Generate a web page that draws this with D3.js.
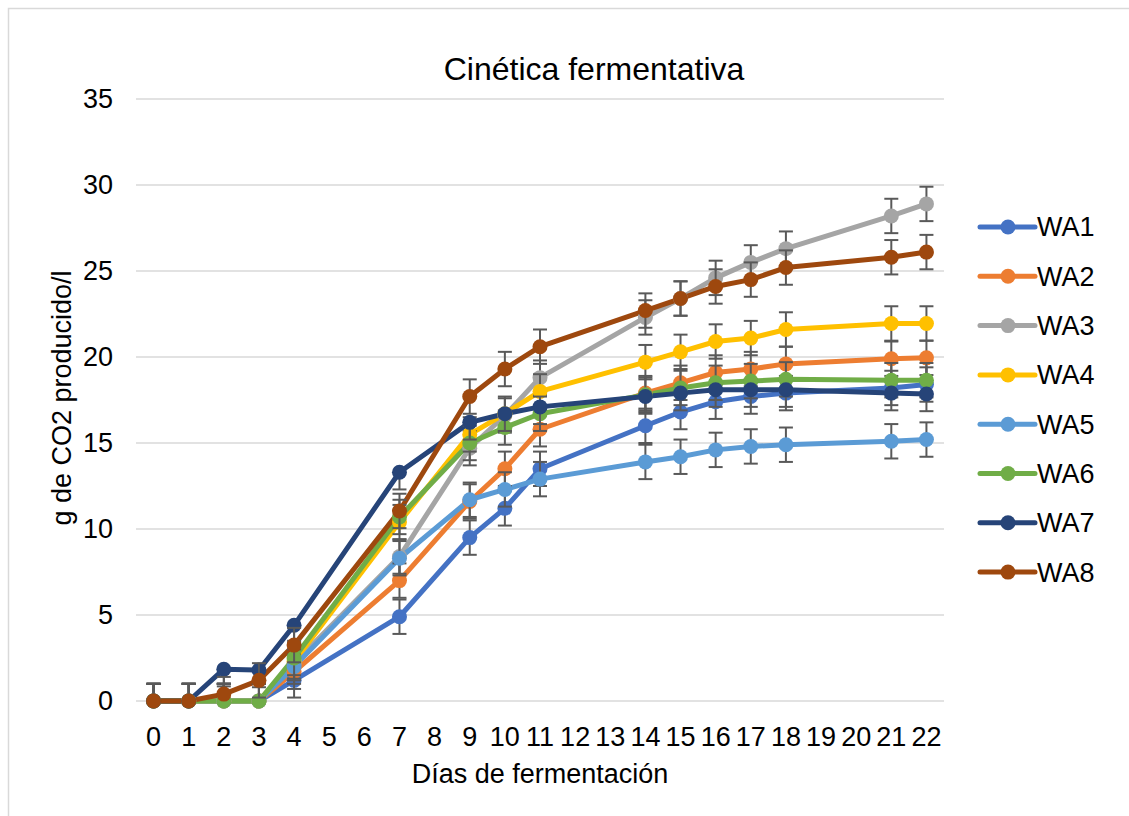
<!DOCTYPE html>
<html>
<head>
<meta charset="utf-8">
<script src="https://cdn.jsdelivr.net/npm/d3@7"></script>
<style>
  body { margin: 0; background: #fff; }
  svg text { font-family: "Liberation Sans", Arial, sans-serif; fill: #000; }
</style>
</head>
<body>
<div id="chart"></div>
<script>
// x axis categories (days 0..22), only some days have measurements
var categories = ["0","1","2","3","4","5","6","7","8","9","10","11","12","13","14","15","16","17","18","19","20","21","22"];
var days = ["0","1","2","3","4","7","9","10","11","14","15","16","17","18","21","22"];

var WA1 = [0, 0, 0, 0, 1.2, 4.9, 9.5, 11.2, 13.5, 16.0, 16.8, 17.4, 17.7, 17.9, 18.2, 18.4];
var WA2 = [0, 0, 0, 0, 1.7, 7.0, 11.6, 13.5, 15.8, 17.9, 18.5, 19.1, 19.3, 19.6, 19.9, 19.95];
var WA3 = [0, 0, 0, 0, 2.2, 8.4, 14.7, 16.6, 18.8, 22.3, 23.4, 24.6, 25.5, 26.3, 28.2, 28.9];
var WA4 = [0, 0, 0, 0, 2.3, 10.4, 15.5, 16.7, 18.0, 19.7, 20.3, 20.9, 21.1, 21.6, 21.95, 21.95];
var WA5 = [0, 0, 0, 0, 2.0, 8.3, 11.7, 12.3, 12.9, 13.9, 14.2, 14.6, 14.8, 14.9, 15.1, 15.2];
var WA6 = [0, 0, 0, 0, 2.5, 10.7, 15.0, 15.9, 16.7, 17.8, 18.2, 18.5, 18.6, 18.7, 18.65, 18.65];
var WA7 = [0, 0, 1.85, 1.8, 4.4, 13.3, 16.2, 16.7, 17.1, 17.7, 17.9, 18.1, 18.1, 18.1, 17.9, 17.85];
var WA8 = [0, 0, 0.4, 1.2, 3.25, 11.05, 17.7, 19.3, 20.6, 22.7, 23.4, 24.1, 24.5, 25.2, 25.8, 26.1];

var seriesNames = ["WA1","WA2","WA3","WA4","WA5","WA6","WA7","WA8"];
var seriesValues = [WA1, WA2, WA3, WA4, WA5, WA6, WA7, WA8];
var errorValue = 1; // fixed error bar
// error bar directions per series (WA7 shows only the lower bar)
var errPlus =  [true, true, true, true, true, true, false, true];
var errMinus = [true, true, true, true, true, true, true, true];
var yTicks = [0, 5, 10, 15, 20, 25, 30, 35];

var colors = ["#4472C4","#ED7D31","#A5A5A5","#FFC000","#5B9BD5","#70AD47","#264478","#9E480E"];

var svgWidth = 1129, svgHeight = 816;
var margin = {left: 136, right: 185, top: 99, bottom: 115};
var plotW = svgWidth - margin.left - margin.right;
var plotH = svgHeight - margin.top - margin.bottom;
var fontSize = 27;

var svg = d3.select('#chart').append('svg')
  .attr('width', svgWidth).attr('height', svgHeight);

svg.append('rect')
  .attr('x', 8.5).attr('y', 8.5)
  .attr('width', svgWidth + 20).attr('height', svgHeight + 20)
  .attr('fill', '#fff').attr('stroke', '#d9d9d9').attr('stroke-width', 1.5);

var g = svg.append('g')
  .attr('transform', 'translate(' + margin.left + ',' + margin.top + ')');

var x = d3.scaleBand().domain(categories).range([0, plotW]).padding(0);
var y = d3.scaleLinear().domain([0, 35]).range([plotH, 0]);
function cx(c) { return x(c) + x.bandwidth() / 2; }

// gridlines
g.selectAll('.grid').data(yTicks).enter().append('line')
  .attr('x1', 0).attr('x2', plotW)
  .attr('y1', function(d) { return y(d); }).attr('y2', function(d) { return y(d); })
  .attr('stroke', '#d9d9d9').attr('stroke-width', 1.5);

// y axis
var yAxis = g.append('g')
  .call(d3.axisLeft(y).tickValues(yTicks).tickSize(0).tickPadding(23));
yAxis.select('.domain').remove();
yAxis.selectAll('text').style('font-size', fontSize + 'px')
  .style('font-family', '"Liberation Sans", Arial, sans-serif').attr('fill', '#000');

// x axis
var xAxis = g.append('g')
  .attr('transform', 'translate(0,' + plotH + ')')
  .call(d3.axisBottom(x).tickSize(0).tickPadding(26));
xAxis.select('.domain').remove();
xAxis.selectAll('text').style('font-size', fontSize + 'px')
  .style('font-family', '"Liberation Sans", Arial, sans-serif').attr('fill', '#000');

// build series
var series = seriesNames.map(function(name, i) {
  return {
    name: name,
    color: colors[i],
    plus: errPlus[i],
    minus: errMinus[i],
    points: days.map(function(d, j) { return {day: d, value: seriesValues[i][j]}; })
  };
});

var line = d3.line()
  .x(function(d) { return cx(d.day); })
  .y(function(d) { return y(d.value); });

// lines
g.selectAll('.line').data(series).enter().append('path')
  .attr('d', function(s) { return line(s.points); })
  .attr('fill', 'none')
  .attr('stroke', function(s) { return s.color; })
  .attr('stroke-width', 5)
  .attr('stroke-linejoin', 'round').attr('stroke-linecap', 'round');

// error bars + markers per series
var capW = 7;
series.forEach(function(s) {
  var sg = g.append('g');
  var eb = sg.selectAll('.err').data(s.points).enter().append('g')
    .attr('stroke', '#595959').attr('stroke-width', 2);
  function top(d) { return y(s.plus ? d.value + errorValue : d.value); }
  function bot(d) { return y(s.minus ? Math.max(0, d.value - errorValue) : d.value); }
  eb.append('line')
    .attr('x1', function(d) { return cx(d.day); }).attr('x2', function(d) { return cx(d.day); })
    .attr('y1', top).attr('y2', bot);
  if (s.plus) {
    eb.append('line')
      .attr('x1', function(d) { return cx(d.day) - capW; }).attr('x2', function(d) { return cx(d.day) + capW; })
      .attr('y1', top).attr('y2', top);
  }
  if (s.minus) {
    eb.filter(function(d) { return d.value - errorValue > 0; }).append('line')
      .attr('x1', function(d) { return cx(d.day) - capW; }).attr('x2', function(d) { return cx(d.day) + capW; })
      .attr('y1', bot).attr('y2', bot);
  }
  sg.selectAll('.dot').data(s.points).enter().append('circle')
    .attr('cx', function(d) { return cx(d.day); })
    .attr('cy', function(d) { return y(d.value); })
    .attr('r', 7.5)
    .attr('fill', s.color);
});

// title
svg.append('text')
  .attr('x', 594).attr('y', 80)
  .attr('text-anchor', 'middle')
  .style('font-size', '32px')
  .text('Cinética fermentativa');

// axis titles
svg.append('text')
  .attr('x', margin.left + plotW / 2).attr('y', 783)
  .attr('text-anchor', 'middle')
  .style('font-size', fontSize + 'px')
  .text('Días de fermentación');

svg.append('text')
  .attr('transform', 'translate(71,398) rotate(-90)')
  .attr('text-anchor', 'middle')
  .style('font-size', fontSize + 'px')
  .text('g de CO2 producido/l');

// legend
var legend = svg.selectAll('.legend').data(series).enter().append('g')
  .attr('transform', function(d, i) { return 'translate(980,' + (227 + i * 49.3) + ')'; });
legend.append('line')
  .attr('x1', 0).attr('x2', 55).attr('y1', 0).attr('y2', 0)
  .attr('stroke', function(d) { return d.color; })
  .attr('stroke-width', 5).attr('stroke-linecap', 'round');
legend.append('circle')
  .attr('cx', 28).attr('cy', 0).attr('r', 7.5)
  .attr('fill', function(d) { return d.color; });
legend.append('text')
  .attr('x', 57).attr('y', 0).attr('dy', '0.35em')
  .style('font-size', fontSize + 'px')
  .text(function(d) { return d.name; });
</script>
</body>
</html>
